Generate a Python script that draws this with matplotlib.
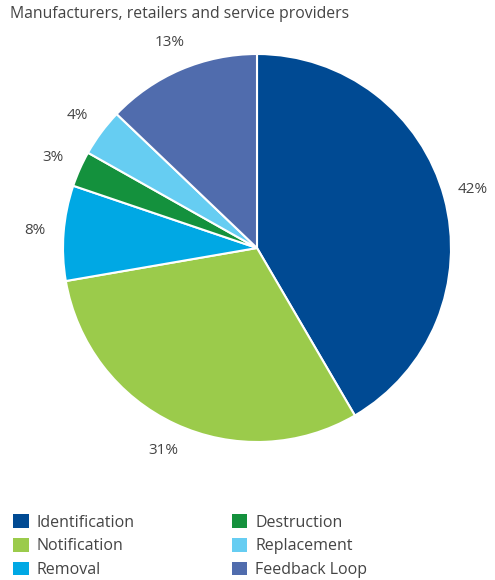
import matplotlib.pyplot as plt

plt.rcParams['font.family'] = ['Open Sans', 'DejaVu Sans']

categories = ['Identification', 'Notification', 'Removal',
              'Destruction', 'Replacement', 'Feedback Loop']
shares = [42, 31, 8, 3, 4, 13]
colors = ['#004a93', '#9bcb4b', '#00a8e4', '#14913d', '#66cdf2', '#506cad']
title = 'Manufacturers, retailers and service providers'
textcol = '#444444'

fig = plt.figure(figsize=(4.95, 5.8), dpi=100)
ax = fig.add_axes([63/495, 138/580, 388/495, 388/580])

wedges, texts = ax.pie(shares, colors=colors, startangle=90, counterclock=False,
                       labels=['%d%%' % v for v in shares], labeldistance=1.15,
                       wedgeprops=dict(edgecolor='white', linewidth=1.5),
                       textprops=dict(color=textcol, fontsize=11))
ax.set_xlim(-1, 1)
ax.set_ylim(-1, 1)
ax.set_aspect('equal')
for t in texts:
    t.set_ha('center')
    t.set_va('center')

fig.text(10/495, 1 - 14/580, title, color=textcol, fontsize=11.3, va='center', ha='left')

leg = fig.legend(wedges, categories, ncol=2, loc='upper left',
                 bbox_to_anchor=(-1/495, 1 - 500/580), frameon=False,
                 handlelength=0.95, handleheight=0.95, handletextpad=0.5,
                 columnspacing=6.1, labelspacing=0.45, fontsize=11.5,
                 labelcolor=textcol)
for h in leg.legend_handles:
    h.set_edgecolor('none')

fig.savefig('out.png', dpi=100)
